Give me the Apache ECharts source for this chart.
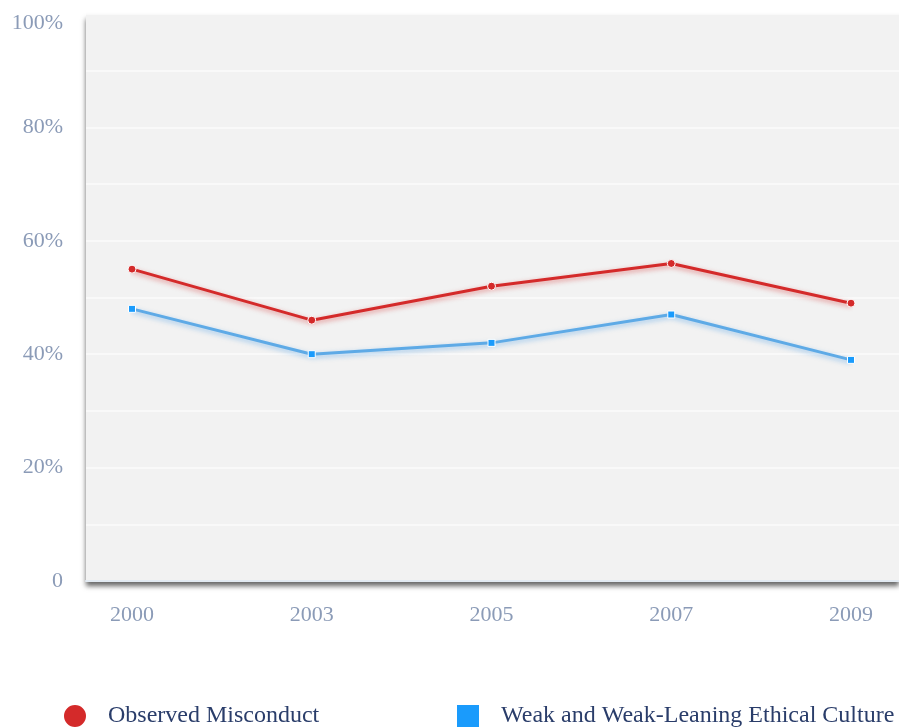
<!DOCTYPE html>
<html><head><meta charset="utf-8">
<script src="https://cdn.jsdelivr.net/npm/echarts@6/dist/echarts.min.js"></script>
<style>html,body{margin:0;padding:0;background:#fff}#c{width:899px;height:728px}</style>
</head><body><div id="c"></div>
<script>
const years = ['2000','2003','2005','2007','2009'];
const observedMisconduct = [55, 46, 52, 56, 49];
const weakCulture = [48, 40, 42, 47, 39];
const yTicks = [0, 20, 40, 60, 80, 100];
const seriesNames = ['Observed Misconduct', 'Weak and Weak-Leaning Ethical Culture'];

const labelColor = '#8b9bb7';
const font = '"Liberation Serif", "DejaVu Serif", serif';
const legendBase = {
  bottom: -6, itemWidth: 24, itemHeight: 24,
  textStyle: {color: '#2a3d6a', fontFamily: font, fontSize: 24, padding: [0, 0, 0, 16]}
};
const chart = echarts.init(document.getElementById('c'));
chart.setOption({
  animation: false,
  grid: [
    {left: 86, right: -2, top: 14, bottom: 147, show: true, backgroundColor: '#f2f2f2', borderWidth: 0,
     shadowColor: 'rgba(0,0,0,0.6)', shadowBlur: 5, shadowOffsetY: 5, shadowOffsetX: 0},
    {left: 132, right: 48, top: 14, bottom: 147}
  ],
  xAxis: [
    {gridIndex: 0, type: 'value', min: 0, max: 1,
     axisLine: {show: true, lineStyle: {color: '#e2eaf2', width: 2}},
     axisTick: {show: false}, axisLabel: {show: false}, splitLine: {show: false}},
    {gridIndex: 1, type: 'category', data: years, boundaryGap: false,
     axisLine: {show: false}, axisTick: {show: false},
     axisLabel: {color: labelColor, fontFamily: font, fontSize: 22, margin: 23}}
  ],
  yAxis: [
    {gridIndex: 0, type: 'value', min: 0, max: 100, interval: 10,
     axisLine: {show: false}, axisTick: {show: false},
     splitLine: {lineStyle: {color: '#fbfbfb', width: 1.5}},
     axisLabel: {color: labelColor, fontFamily: font, fontSize: 22, margin: 23,
       formatter: v => !yTicks.includes(v) ? '' : (v === 0 ? '0' : (v === 100 ? '{top|100%}' : v + '%')),
       rich: {top: {color: labelColor, fontFamily: font, fontSize: 22, padding: [18, 0, 0, 0]}}}},
    {gridIndex: 1, type: 'value', min: 0, max: 100, show: false}
  ],
  legend: [
    Object.assign({}, legendBase, {left: 57, data: [{name: seriesNames[0], icon: 'circle'}]}),
    Object.assign({}, legendBase, {left: 450, data: [{name: seriesNames[1], icon: 'rect'}]})
  ],
  series: [
    {name: seriesNames[0], type: 'line', xAxisIndex: 1, yAxisIndex: 1, data: observedMisconduct,
     symbol: 'circle', symbolSize: 8,
     lineStyle: {color: '#d42a2a', width: 3, shadowColor: 'rgba(212,42,42,0.5)', shadowBlur: 5, shadowOffsetY: 2},
     itemStyle: {color: '#d42a2a', borderColor: '#ffffff', borderWidth: 1}},
    {name: seriesNames[1], type: 'line', xAxisIndex: 1, yAxisIndex: 1, data: weakCulture,
     symbol: 'rect', symbolSize: 7,
     lineStyle: {color: '#5eaae6', width: 3, shadowColor: 'rgba(60,150,230,0.5)', shadowBlur: 5, shadowOffsetY: 2},
     itemStyle: {color: '#1a9bfc', borderColor: '#ffffff', borderWidth: 1}}
  ]
});
</script></body></html>
